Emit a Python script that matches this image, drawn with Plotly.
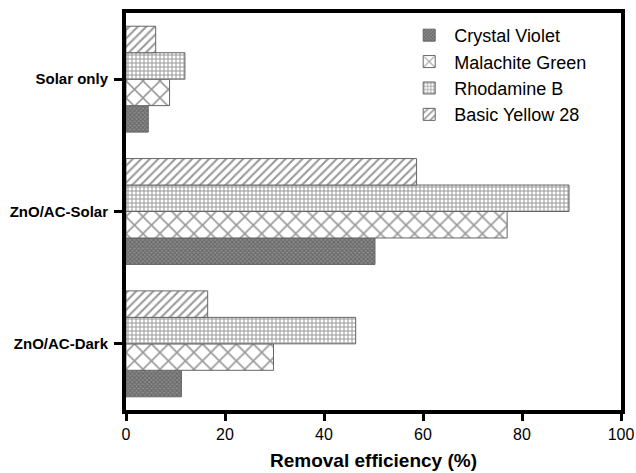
import plotly.graph_objects as go

categories = ["ZnO/AC-Dark", "ZnO/AC-Solar", "Solar only"]
crystal_violet = [11.2, 50.3, 4.5]
malachite_green = [29.8, 77.0, 8.8]
rhodamine_b = [46.4, 89.5, 11.9]
basic_yellow_28 = [16.5, 58.7, 6.0]

series = [
    ("Crystal Violet", crystal_violet, dict(shape="x", size=3, solidity=0.5, fgcolor="#3a3a3a", bgcolor="#8c8c8c")),
    ("Malachite Green", malachite_green, dict(shape="x", size=12, solidity=0.25, fgcolor="#333333", bgcolor="white")),
    ("Rhodamine B", rhodamine_b, dict(shape="+", size=4, solidity=0.45, fgcolor="#333333", bgcolor="white")),
    ("Basic Yellow 28", basic_yellow_28, dict(shape="/", size=6, solidity=0.35, fgcolor="#333333", bgcolor="white")),
]

fig = go.Figure()
for name, vals, pat in series:
    fig.add_trace(go.Bar(
        y=categories, x=vals, name=name, orientation="h",
        marker=dict(color="white", pattern=pat, line=dict(color="#666666", width=1)),
    ))

fig.update_layout(
    width=636, height=473,
    margin=dict(l=126, r=15, t=13, b=63),
    barmode="group", bargap=0.2, bargroupgap=0,
    plot_bgcolor="white", paper_bgcolor="white",
    font=dict(family="Liberation Sans, Arial", color="black"),
    legend=dict(x=0.562, y=0.99, xanchor="left", yanchor="top",
                font=dict(size=18), bgcolor="rgba(0,0,0,0)", tracegroupgap=0,
                traceorder="normal", itemwidth=40),
    xaxis=dict(range=[0, 100], dtick=20, showline=True, linewidth=4, linecolor="black",
               mirror=True, ticks="outside", ticklen=7, tickwidth=3, tickcolor="black",
               showgrid=False, zeroline=False, tickfont=dict(size=16), automargin=False,
               title=dict(text="<b>Removal efficiency (%)</b>", font=dict(size=19), standoff=12)),
    yaxis=dict(range=[-0.5, 2.5], showline=True, linewidth=4, linecolor="black",
               mirror=True, ticks="outside", ticklen=8, tickwidth=3, tickcolor="black",
               showgrid=False, zeroline=False, tickfont=dict(size=15), automargin=False,
               ticklabelstandoff=3,
               tickvals=categories, ticktext=["<b>%s</b>" % c for c in categories]),
)

fig.write_html("out.html")
